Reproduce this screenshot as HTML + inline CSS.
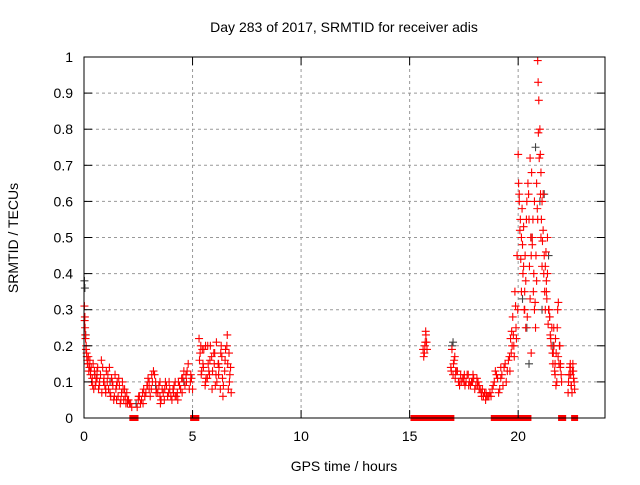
<!DOCTYPE html>
<html><head><meta charset="utf-8"><style>
body{margin:0;background:#fff;font-family:"Liberation Sans",sans-serif;}
svg text{font-family:"Liberation Sans",sans-serif;font-size:14px;fill:#000;}
</style></head><body>
<svg id="chart" width="640" height="480" xmlns="http://www.w3.org/2000/svg">
<rect width="640" height="480" fill="#fff"/>
<g id="grid"></g>
<g id="marks"></g>
<rect x="84" y="57" width="521" height="361" fill="none" stroke="#000" stroke-width="1"/>
<g id="ticks"></g>
<text x="344" y="32" text-anchor="middle">Day 283 of 2017, SRMTID for receiver adis</text>
<text x="344" y="471" text-anchor="middle">GPS time / hours</text>
<text transform="translate(18,238) rotate(-90)" text-anchor="middle">SRMTID / TECUs</text>
</svg>
<script>
const xTicks=[0,5,10,15,20];
const yTicks=[0,0.1,0.2,0.3,0.4,0.5,0.6,0.7,0.8,0.9,1];
const yTickLabels=["0","0.1","0.2","0.3","0.4","0.5","0.6","0.7","0.8","0.9","1"];
const redT=[0.02,0.04,0.05,0.07,0.1,0.12,0.15,0.18,0.2,0.25,0.3,0.35,0.4,0.45,0.5,0.55,0.6,0.7,0.8,0.9,1.0,1.1,1.2,1.3,1.4,1.5,1.6,1.7,1.8,1.9,2.0,2.1,2.2,
2.5,2.6,2.7,2.8,2.9,3.0,3.1,3.2,3.3,3.4,3.5,3.6,3.7,3.8,3.9,4.0,4.1,4.2,4.3,4.4,4.5,4.6,4.7,4.8,4.9,5.0,
5.3,5.35,5.4,5.5,5.6,5.7,5.8,5.9,6.0,6.1,6.2,6.3,6.4,6.5,6.6,6.7,6.75,5.45,5.75,6.05,6.35,6.65,
15.65,15.7,15.75,15.8,15.72,
16.9,16.95,17.0,17.05,17.1,17.2,17.3,17.4,17.5,17.6,17.7,17.8,17.9,18.0,18.1,18.2,18.3,18.4,18.5,18.6,18.7,
18.8,18.9,19.0,19.1,19.2,19.3,19.4,19.5,19.6,19.65,19.7,19.75,19.8,19.85,19.9,19.95,
20.0,20.05,20.1,20.15,20.2,20.25,20.3,20.35,20.4,20.45,20.5,20.55,20.6,20.65,20.7,20.75,20.8,20.85,20.9,20.92,20.95,21.0,21.02,21.05,21.1,21.15,21.2,21.25,21.3,21.35,21.4,21.45,21.5,21.55,
21.6,21.65,21.7,21.75,21.8,21.85,21.9,21.95,22.0,
22.3,22.35,22.4,22.45,22.5,22.55,22.6,
0.3,0.6,1.0,1.5,2.0,3.0,3.5,4.2,4.7,5.6,6.2,17.5,18.2,19.2,20.3,20.6,20.9,21.1,21.3,21.7,22.4];
const redV=[0.31,0.28,0.25,0.22,0.2,0.18,0.16,0.15,0.17,0.14,0.12,0.1,0.09,0.08,0.12,0.1,0.13,0.09,0.16,0.1,0.08,0.12,0.07,0.1,0.06,0.09,0.11,0.05,0.08,0.06,0.05,0.04,0.03,
0.05,0.04,0.07,0.06,0.09,0.1,0.08,0.13,0.1,0.07,0.06,0.08,0.05,0.09,0.07,0.06,0.08,0.1,0.07,0.09,0.11,0.13,0.12,0.15,0.1,0.08,
0.22,0.18,0.12,0.14,0.1,0.2,0.16,0.08,0.15,0.21,0.12,0.18,0.06,0.16,0.23,0.1,0.14,0.19,0.13,0.09,0.17,0.08,
0.17,0.2,0.23,0.19,0.21,
0.14,0.19,0.12,0.16,0.11,0.13,0.09,0.1,0.11,0.1,0.12,0.09,0.1,0.08,0.11,0.09,0.07,0.06,0.05,0.06,0.07,
0.08,0.1,0.12,0.07,0.14,0.09,0.15,0.13,0.17,0.22,0.24,0.28,0.2,0.35,0.25,0.45,
0.73,0.62,0.55,0.5,0.48,0.42,0.35,0.38,0.6,0.65,0.55,0.72,0.45,0.5,0.35,0.3,0.25,0.65,0.99,0.93,0.88,0.8,0.73,0.68,0.6,0.52,0.45,0.42,0.38,0.5,0.3,0.28,0.22,0.25,
0.15,0.2,0.12,0.18,0.25,0.32,0.2,0.15,0.1,
0.07,0.12,0.15,0.09,0.13,0.11,0.08,
0.13,0.11,0.07,0.05,0.04,0.08,0.1,0.06,0.12,0.2,0.15,0.1,0.08,0.11,0.3,0.18,0.55,0.42,0.35,0.15,0.14];
const red2T=[0.03,0.06,0.09,0.13,0.16,0.22,0.27,0.33,0.38,0.42,0.48,0.52,0.58,0.63,0.67,0.72,0.76,0.82,0.86,0.92,0.96,1.03,1.07,1.13,1.17,1.23,1.27,1.33,1.37,1.43,1.47,1.53,1.57,1.63,1.67,1.73,1.77,1.83,1.87,1.93,1.97,2.05,2.15,
2.45,2.55,2.65,2.75,2.85,2.95,3.05,3.15,3.25,3.35,3.45,3.55,3.65,3.75,3.85,3.95,4.05,4.15,4.25,4.35,4.45,4.55,4.65,4.75,4.85,4.95,2.52,2.72,2.92,3.12,3.32,3.52,3.72,3.92,4.12,4.32,4.52,4.72,4.92,
5.32,5.42,5.52,5.62,5.72,5.82,5.92,6.02,6.12,6.22,6.32,6.42,6.52,6.62,6.72,5.38,5.58,5.78,5.98,6.18,6.38,6.58,6.78,5.48,5.68,5.88,6.08,6.28,6.48,6.68,
15.62,15.68,15.78,15.74,
16.92,17.02,17.08,17.15,17.25,17.35,17.45,17.55,17.65,17.75,17.85,17.95,18.05,18.15,18.25,18.35,18.45,18.55,18.65,17.12,17.32,17.52,17.72,17.92,18.12,18.32,18.52,
18.75,18.85,18.95,19.05,19.15,19.25,19.35,19.45,19.55,19.62,19.68,19.72,19.78,19.82,19.88,19.92,19.98,
20.02,20.08,20.12,20.18,20.22,20.28,20.32,20.38,20.42,20.48,20.52,20.58,20.62,20.68,20.72,20.78,20.82,20.88,20.93,20.97,21.03,21.07,21.12,21.18,21.22,21.28,21.32,21.38,21.42,21.48,21.52,21.58,
20.05,20.15,20.25,20.35,20.55,20.65,20.75,20.85,21.05,21.15,21.25,21.35,21.45,
21.62,21.68,21.72,21.78,21.82,21.88,21.92,21.98,21.64,21.74,21.84,21.94,
22.32,22.38,22.42,22.48,22.52,22.58,22.34,22.44,22.54];
const red2V=[0.27,0.23,0.19,0.17,0.15,0.13,0.16,0.14,0.11,0.15,0.13,0.09,0.11,0.14,0.08,0.1,0.12,0.07,0.14,0.11,0.09,0.13,0.1,0.08,0.14,0.06,0.11,0.09,0.05,0.12,0.08,0.1,0.06,0.09,0.04,0.07,0.1,0.05,0.08,0.04,0.07,0.05,0.04,
0.03,0.06,0.05,0.08,0.07,0.11,0.06,0.1,0.12,0.08,0.09,0.05,0.07,0.1,0.06,0.08,0.05,0.09,0.06,0.1,0.08,0.11,0.09,0.13,0.08,0.11,0.06,0.04,0.09,0.12,0.07,0.04,0.08,0.1,0.07,0.05,0.07,0.1,0.12,
0.16,0.13,0.19,0.11,0.15,0.2,0.13,0.18,0.1,0.14,0.2,0.09,0.19,0.15,0.12,0.2,0.09,0.12,0.18,0.15,0.11,0.2,0.07,0.15,0.11,0.17,0.12,0.08,0.13,0.18,
0.19,0.18,0.21,0.24,
0.13,0.15,0.17,0.13,0.1,0.12,0.11,0.09,0.12,0.1,0.1,0.11,0.09,0.1,0.08,0.08,0.07,0.06,0.06,0.13,0.1,0.12,0.09,0.12,0.09,0.06,0.07,
0.06,0.09,0.13,0.11,0.08,0.12,0.14,0.1,0.16,0.13,0.18,0.2,0.23,0.17,0.31,0.22,0.3,
0.65,0.52,0.44,0.58,0.4,0.3,0.45,0.55,0.28,0.62,0.42,0.5,0.68,0.55,0.4,0.32,0.45,0.58,0.79,0.72,0.62,0.55,0.49,0.4,0.35,0.46,0.33,0.26,0.3,0.23,0.2,0.18,
0.6,0.35,0.53,0.25,0.33,0.48,0.6,0.38,0.5,0.62,0.3,0.4,0.28,
0.18,0.13,0.22,0.1,0.3,0.15,0.2,0.12,0.25,0.09,0.17,0.14,
0.1,0.14,0.12,0.07,0.15,0.1,0.12,0.09,0.13];
const greyT=[0.02,0.04,0.08,0.5,1.2,2.4,3.3,4.6,16.95,17.0,20.2,20.4,20.6,20.8,21.0,21.2,21.4,21.6,20.5,21.1];
const greyV=[0.38,0.36,0.23,0.12,0.1,0.04,0.09,0.1,0.2,0.21,0.33,0.25,0.5,0.75,0.6,0.62,0.45,0.2,0.15,0.3];
const zeroT=[2.25,2.35,5.05,5.15,15.2,15.3,15.4,15.5,15.8,15.9,16.0,16.1,16.2,16.3,16.4,16.5,16.6,16.7,16.8,16.9,18.9,19.0,19.2,19.3,19.4,19.6,19.9,20.0,20.3,20.4,20.45,22.0,22.05,22.6];
const X=h=>84+h*(521/24), Y=v=>418-v*361;
const NS="http://www.w3.org/2000/svg";
const grid=document.getElementById('grid'),ticks=document.getElementById('ticks'),marks=document.getElementById('marks');
function mk(tag,attrs,parent){const e=document.createElementNS(NS,tag);for(const k in attrs)e.setAttribute(k,attrs[k]);parent.appendChild(e);return e;}
xTicks.forEach(t=>{const x=X(t);
 const g=mk('line',{x1:x,x2:x,y1:57,y2:418,stroke:'#999','stroke-dasharray':'3,3'},grid);
 
 
 mk('line',{x1:x,x2:x,y1:418,y2:410,stroke:'#000'},ticks);mk('line',{x1:x,x2:x,y1:57,y2:65,stroke:'#000'},ticks);
 const l=mk('text',{x:x,y:441,'text-anchor':'middle'},ticks);l.textContent=t;
 
 });
yTicks.forEach((t,i)=>{const y=Y(t);
 const g=mk('line',{x1:84,x2:605,y1:y,y2:y,stroke:'#999','stroke-dasharray':'3,3'},grid);
 
 
 mk('line',{x1:84,x2:92,y1:y,y2:y,stroke:'#000'},ticks);mk('line',{x1:605,x2:597,y1:y,y2:y,stroke:'#000'},ticks);
 const l=mk('text',{x:73,y:y+5,'text-anchor':'end'},ticks);l.textContent=yTickLabels[i];
 
 });
function plus(h,v,col,name){const x=X(h),y=Y(v);
 const p=mk('path',{d:`M${x-4} ${y}h8M${x} ${y-4}v8`,stroke:col,'stroke-width':1.1,fill:'none'},marks);
 
 }
greyT.forEach((h,i)=>plus(h,greyV[i],'#444','grey-point'));
redT.forEach((h,i)=>plus(h,redV[i],'#f00','red-point'));
red2T.forEach((h,i)=>plus(h,red2V[i],'#f00','red-point'));
zeroT.forEach(h=>{const r=mk('rect',{x:X(h)-3.5,y:Y(0)-3,width:7,height:6,fill:'#f00'},marks);
 
 });
</script>
</body></html>
